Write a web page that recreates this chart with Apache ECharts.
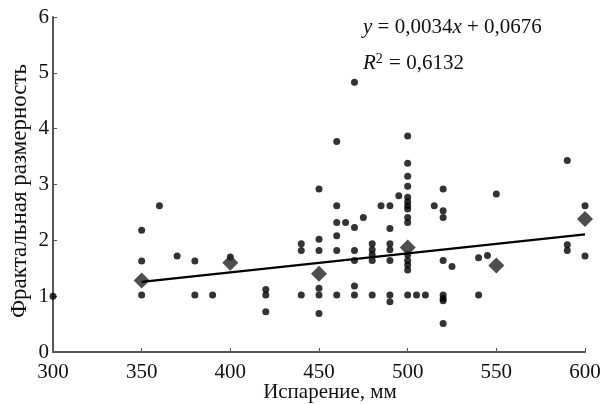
<!DOCTYPE html>
<html>
<head>
<meta charset="utf-8">
<script src="https://cdn.jsdelivr.net/npm/echarts@6/dist/echarts.min.js"></script>
<style>html,body{margin:0;padding:0;background:#fff}#c{width:601px;height:404px}</style>
</head>
<body>
<div id="c"></div>
<script>
// Individual observations: evaporation (mm) and fractal dimension
const pointX = [300,
  350,350,350, 360, 370, 380,380, 390, 400,
  420,420,420, 440,440,440,
  450,450,450,450,450,450,
  460,460,460,460,460,460, 465,
  470,470,470,470,470,470, 475,
  480,480,480,480,480, 485,
  490,490,490,490,490,490,490, 495,
  500,500,500,500,500,500,500,500,500,500,500,500,500,500,500,
  505, 510, 515,
  520,520,520,520,520,520,520,520, 525,
  540,540, 545, 550,
  590,590,590, 600,600];
const pointY = [1.00,
  2.18,1.63,1.02, 2.62, 1.72, 1.63,1.02, 1.02, 1.70,
  1.12,1.02,0.72, 1.94,1.82,1.02,
  2.92,2.02,1.82,1.14,1.02,0.69,
  3.77,2.62,2.32,2.08,1.82,1.02, 2.32,
  4.83,2.23,1.82,1.64,1.18,1.02, 2.41,
  1.94,1.83,1.74,1.64,1.02, 2.62,
  2.62,2.21,1.94,1.83,1.64,1.02,0.90, 2.80,
  3.87,3.38,3.15,2.97,2.77,2.69,2.62,2.56,2.41,2.32,1.74,1.64,1.56,1.47,1.02,
  1.02, 1.02, 2.62,
  2.92,2.53,2.41,1.64,1.02,0.96,0.92,0.51, 1.53,
  1.69,1.02, 1.73, 2.83,
  3.43,1.92,1.82, 2.62,1.72];
// Group means (diamonds)
const meanX = [350, 400, 450, 500, 550, 600];
const meanY = [1.28, 1.60, 1.40, 1.87, 1.55, 2.38];
// Linear trend y = 0,0034x + 0,0676
const trendSlope = 0.0034;
const trendIntercept = 0.0676;
const trendX = [350, 600];
const xTicks = [300, 350, 400, 450, 500, 550, 600];
const yTicks = [0, 1, 2, 3, 4, 5, 6];

const FONT = '"Liberation Serif", "Times New Roman", serif';
const chart = echarts.init(document.getElementById('c'), null, {renderer: 'canvas'});
const dots = pointX.map((x, i) => [x, pointY[i]]);
const means = meanX.map((x, i) => [x, meanY[i]]);
const trend = trendX.map(x => [x, trendSlope * x + trendIntercept]);

chart.setOption({
  animation: false,
  backgroundColor: '#fff',
  grid: {left: 53, right: 16, top: 17, bottom: 52, containLabel: false, outerBoundsMode: 'none'},
  xAxis: {
    type: 'value', min: xTicks[0], max: xTicks[xTicks.length - 1], interval: 50,
    name: 'Испарение, мм', nameLocation: 'middle', nameGap: 30, nameMoveOverlap: false,
    nameTextStyle: {fontFamily: FONT, fontSize: 21, color: '#111', padding: [0, 0, 0, 22]},
    axisLine: {lineStyle: {color: '#555', width: 2}},
    axisTick: {inside: true, length: 4, lineStyle: {color: '#555', width: 1}},
    axisLabel: {fontFamily: FONT, fontSize: 21, color: '#111', margin: 10},
    splitLine: {show: false}
  },
  yAxis: {
    type: 'value', min: yTicks[0], max: yTicks[yTicks.length - 1], interval: 1,
    name: 'Фрактальная размерность', nameLocation: 'middle', nameGap: 22, nameMoveOverlap: false,
    nameTextStyle: {fontFamily: FONT, fontSize: 23, color: '#111', padding: [0, 13, 0, 0]},
    axisLine: {show: true, lineStyle: {color: '#555', width: 2}},
    axisTick: {show: true, inside: true, length: 4, lineStyle: {color: '#555', width: 1}},
    axisLabel: {fontFamily: FONT, fontSize: 21, color: '#111', margin: 4},
    splitLine: {show: false}
  },
  series: [
    {type: 'scatter', data: dots, symbol: 'circle', symbolSize: 7,
     itemStyle: {color: '#000'}, z: 2},
    {type: 'scatter', data: means, symbol: 'diamond', symbolSize: [16, 16],
     itemStyle: {color: '#222'}, z: 3},
    {type: 'line', data: trend, symbol: 'none', lineStyle: {color: '#000', width: 2.2}, z: 4}
  ],
  graphic: [
    {type: 'text', left: 363, top: 17,
     style: {text: '{i|y} = 0,0034{i|x} + 0,0676', font: '21px ' + FONT, fill: '#111',
       rich: {i: {fontStyle: 'italic', fontFamily: FONT, fontSize: 21}}}},
    {type: 'text', left: 363, top: 52,
     style: {text: '{i|R}{s|2} = 0,6132', font: '21px ' + FONT, fill: '#111',
       rich: {i: {fontStyle: 'italic', fontFamily: FONT, fontSize: 21},
              s: {fontFamily: FONT, fontSize: 14, verticalAlign: 'top', padding: [0, 1, 8, 0]}}}}
  ]
});
</script>
</body>
</html>
